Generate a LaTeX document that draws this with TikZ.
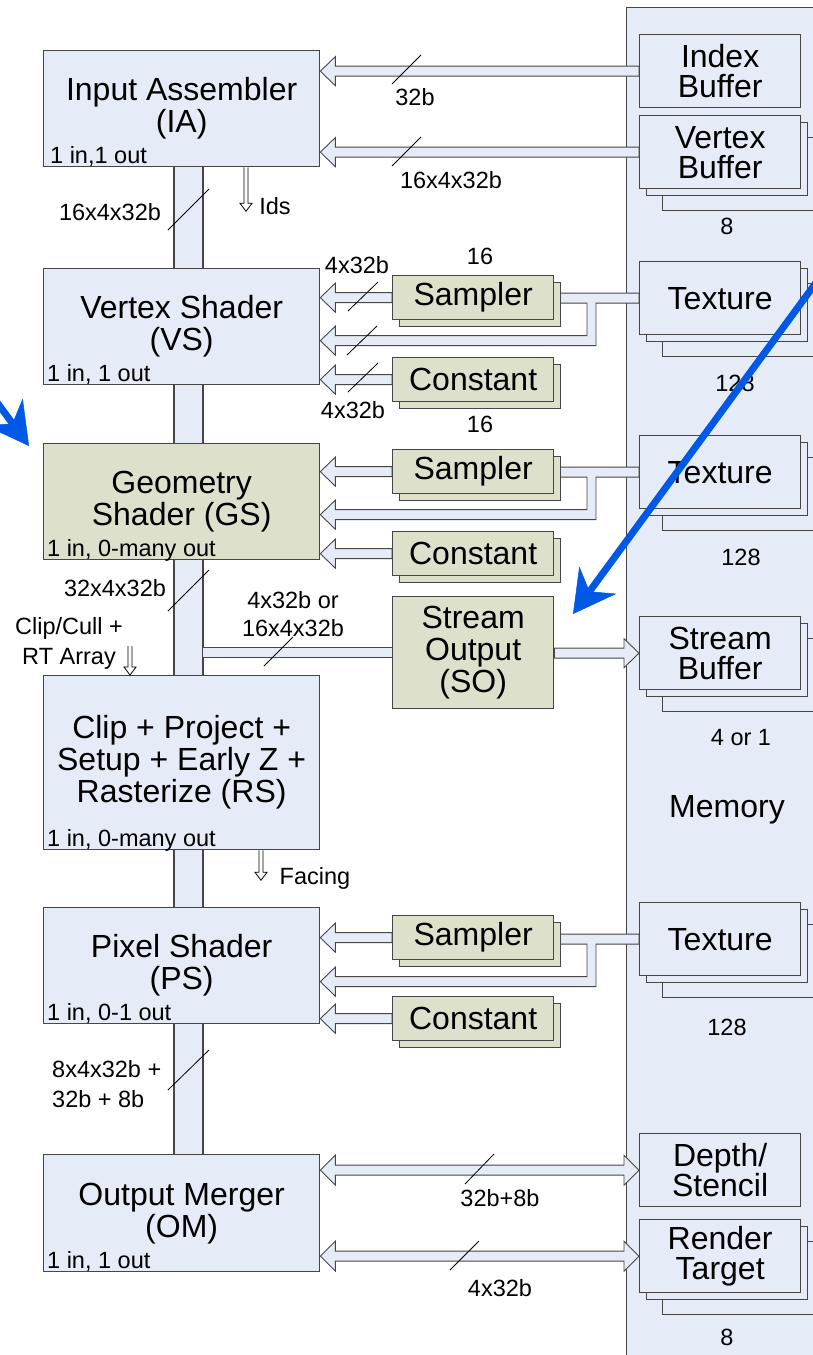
\documentclass[tikz,border=0pt]{standalone}
\usepackage{fontspec}
\setmainfont{Liberation Sans}
\usetikzlibrary{arrows.meta,calc,backgrounds}
\definecolor{boxblue}{RGB}{229,236,247}
\definecolor{olivebox}{RGB}{221,224,203}
\definecolor{edgegray}{RGB}{70,70,70}
\definecolor{bluearr}{RGB}{0,88,230}
\newcommand\bigfont{\fontsize{32}{32}\selectfont}
\newcommand\memfont{\fontsize{32}{30}\selectfont}
\newcommand\smallfont{\fontsize{23.5}{30}\selectfont}
% left-pointing hollow band arrow: tip, tail
\newcommand\LArrow[2]{%
  \filldraw[band] let \p1=#1, \p2=#2 in
   (\x1,\y1) -- (\x1+15pt,\y1+14.5pt) -- (\x1+15pt,\y1+5pt) -- (\x2,\y1+5pt)
   -- (\x2,\y1-5pt) -- (\x1+15pt,\y1-5pt) -- (\x1+15pt,\y1-14.5pt) -- cycle;}
% right-pointing hollow band arrow: tip, tail
\newcommand\RArrow[2]{%
  \filldraw[band] let \p1=#1, \p2=#2 in
   (\x1,\y1) -- (\x1-15pt,\y1+14.5pt) -- (\x1-15pt,\y1+5pt) -- (\x2,\y1+5pt)
   -- (\x2,\y1-5pt) -- (\x1-15pt,\y1-5pt) -- (\x1-15pt,\y1-14.5pt) -- cycle;}
% double-headed band: left tip, right tip
\newcommand\DArrow[2]{%
  \filldraw[band] let \p1=#1, \p2=#2 in
   (\x1,\y1) -- (\x1+15pt,\y1+15pt) -- (\x1+15pt,\y1+5pt) -- (\x2-15pt,\y1+5pt)
   -- (\x2-15pt,\y1+15pt) -- (\x2,\y1) -- (\x2-15pt,\y1-15pt) -- (\x2-15pt,\y1-5pt)
   -- (\x1+15pt,\y1-5pt) -- (\x1+15pt,\y1-15pt) -- cycle;}
% branch band from texture to shader: tip, texture west, sampler east
\newcommand\BArrow[3]{%
  \filldraw[band] let \p1=#1, \p2=#2, \p3=#3 in
   (\x2,\y2+5pt) -- (\x3,\y2+5pt) -- (\x3,\y2-5pt) -- (\x2-52pt,\y2-5pt)
   -- (\x2-52pt,\y1+5pt) -- (\x1+15pt,\y1+5pt) -- (\x1+15pt,\y1+14.5pt) -- (\x1,\y1)
   -- (\x1+15pt,\y1-14.5pt) -- (\x1+15pt,\y1-5pt) -- (\x2-43pt,\y1-5pt)
   -- (\x2-43pt,\y2-5pt) -- (\x2,\y2-5pt) -- cycle;}
% small hollow down arrow: top point, length
\newcommand\VArrow[2]{%
  \filldraw[thinarr] let \p1=#1 in
   (\x1-2pt,\y1) -- (\x1-2pt,\y1-#2pt+8pt) -- (\x1-6pt,\y1-#2pt+8pt) -- (\x1,\y1-#2pt)
   -- (\x1+6pt,\y1-#2pt+8pt) -- (\x1+2pt,\y1-#2pt+8pt) -- (\x1+2pt,\y1);}
\newcommand\memstack[4]{%
  \node[membox, minimum width=175] (#1c) at ({#2+23},{#3+22}) {};
  \node[membox] (#1b) at ({#2+7},{#3+7}) {};
  \node[membox] (#1) at (#2,#3) {#4};}
\newcommand\olstack[3]{%
  \node[obox] (#1b) at (399,{#2+7}) {};
  \node[obox] (#1) at (392,#2) {#3};}
\begin{document}
\begin{tikzpicture}[x=1pt,y=-1pt,
  mainbox/.style={draw=edgegray, fill=boxblue, line width=1.3pt, inner sep=0pt,
    anchor=north west, align=center, font=\bigfont, minimum width=276, minimum height=116},
  obox/.style={draw=edgegray, fill=olivebox, line width=1.3pt, inner sep=0pt,
    anchor=north west, align=center, font=\bigfont, minimum width=161, minimum height=44},
  membox/.style={draw=edgegray, fill=boxblue, line width=1.3pt, inner sep=0pt,
    anchor=north west, align=center, font=\memfont, minimum width=161, minimum height=73},
  panelbox/.style={draw=edgegray, fill=boxblue, line width=1.3pt, inner sep=0pt,
    anchor=north west, minimum width=230, minimum height=1400},
  lbl/.style={font=\smallfont, inner sep=0pt, align=center},
  iolabel/.style={font=\smallfont, inner sep=0pt, anchor=base west},
  band/.style={fill=boxblue, draw=edgegray, line width=0.9pt},
  slashline/.style={draw=black, line width=0.8pt},
  thinarr/.style={fill=white, draw=black, line width=0.8pt},
  bluearrow/.style={draw=bluearr, line width=7pt,
    -{Stealth[length=42pt,width=46pt,inset=14pt,line width=0.5pt]}}
]
\useasboundingbox (0,0) rectangle (813,1355);
\clip (0,0) rectangle (813,1355);

% ---- pipeline blocks ----
\node[mainbox] (ia) at (43,50) {Input Assembler\\(IA)};
\node[mainbox] (vs) at (43,268) {Vertex Shader\\(VS)};
\node[mainbox, fill=olivebox] (gs) at (43,443) {Geometry\\Shader (GS)};
\node[mainbox, minimum height=174] (rs) at (43,675) {Clip + Project +\\Setup + Early Z +\\Rasterize (RS)};
\node[mainbox] (ps) at (43,907) {Pixel Shader\\(PS)};
\node[mainbox, minimum height=117] (om) at (43,1154) {Output Merger\\(OM)};

\node[iolabel] (iaio) at ($(ia.south west)+(7,-3.5)$) {1 in,1 out};
\node[iolabel] (vsio) at ($(vs.south west)+(4,-3.5)$) {1 in, 1 out};
\node[iolabel] (gsio) at ($(gs.south west)+(4,-3.5)$) {1 in, 0-many out};
\node[iolabel] (rsio) at ($(rs.south west)+(4,-3.5)$) {1 in, 0-many out};
\node[iolabel] (psio) at ($(ps.south west)+(4,-3.5)$) {1 in, 0-1 out};
\node[iolabel] (omio) at ($(om.south west)+(4,-3.5)$) {1 in, 1 out};

% ---- memory resources ----
\node[membox] (ib) at (639,34) {Index\\Buffer};
\memstack{vb}{639}{115}{Vertex\\Buffer}
\memstack{txa}{639}{261}{Texture}
\memstack{txb}{639}{435}{Texture}
\memstack{sbuf}{639}{616}{Stream\\Buffer}
\memstack{txc}{639}{902}{Texture}
\node[membox] (ds) at (639,1133) {Depth/\\Stencil};
\memstack{rt}{639}{1219}{Render\\Target}
\node[lbl, font=\bigfont] (memlbl) at (727,810) {Memory};

% ---- samplers / constants / stream output ----
\olstack{smpA}{275}{Sampler}
\olstack{cstA}{357}{Constant}
\olstack{smpB}{449}{Sampler}
\olstack{cstB}{531}{Constant}
\olstack{smpC}{915}{Sampler}
\olstack{cstC}{996}{Constant}
\node[obox, minimum height=112] (so) at (392,596) {Stream\\Output\\(SO)};

% ---- background: memory panel, bus, bands ----
\begin{scope}[on background layer]
  \node[panelbox] (mem) at (626,7) {};
  \fill[boxblue] ($(ia.south west)+(131,0)$) rectangle ($(om.north west)+(160,0)$);
  \draw[edgegray, line width=1.3pt] ($(ia.south west)+(131,0)$) -- ($(om.north west)+(131,0)$);
  \draw[edgegray, line width=1.3pt] ($(ia.south west)+(160,0)$) -- ($(om.north west)+(160,0)$);
  \LArrow{(ia.east |- ib.west)}{(ib.west)}
  \LArrow{(ia.east |- vb.west)}{(vb.west)}
  \LArrow{(vs.east |- smpA.west)}{(smpA.west)}
  \BArrow{($(vs.east |- smpA.west)+(0,43)$)}{(txa.west)}{(smpA.east)}
  \LArrow{(vs.east |- cstA.west)}{(cstA.west)}
  \LArrow{(gs.east |- smpB.west)}{(smpB.west)}
  \BArrow{($(gs.east |- smpB.west)+(0,43)$)}{(txb.west)}{(smpB.east)}
  \LArrow{(gs.east |- cstB.west)}{(cstB.west)}
  \LArrow{(ps.east |- smpC.west)}{(smpC.west)}
  \BArrow{($(ps.east |- smpC.west)+(0,44)$)}{(txc.west)}{(smpC.east)}
  \LArrow{(ps.east |- cstC.west)}{(cstC.west)}
  \fill[boxblue] let \p1=(so.west), \p2=($(ia.south west)+(160,0)$) in
    (\x2,\y1-5pt) rectangle (\x1,\y1+5pt);
  \draw[band] let \p1=(so.west), \p2=($(ia.south west)+(160,0)$) in
    (\x2,\y1-5pt) -- (\x1,\y1-5pt) (\x2,\y1+5pt) -- (\x1,\y1+5pt);
  \RArrow{(sbuf.west)}{(so.east)}
  \DArrow{(om.east |- ds.west)}{(ds.west)}
  \DArrow{(om.east |- rt.west)}{(rt.west)}
\end{scope}

% ---- width slashes ----
\draw[slashline] (392,84) -- (421,55);
\draw[slashline] (392,166) -- (421,137);
\draw[slashline] (168,230) -- (209,189);
\draw[slashline] (348,311) -- (378,282);
\draw[slashline] (347,355) -- (377,326);
\draw[slashline] (348,392) -- (378,363);
\draw[slashline] (168,611) -- (209,570);
\draw[slashline] (264,666) -- (293,637);
\draw[slashline] (168,1090) -- (209,1050);
\draw[slashline] (465,1184) -- (494,1154);
\draw[slashline] (450,1270) -- (479,1241);

% ---- small side arrows ----
\VArrow{($(ia.south west)+(203,0)$)}{44}
\coordinate (clipTop) at (130,646);
\VArrow{(clipTop)}{29}
\VArrow{($(rs.south west)+(218,0)$)}{30}

% ---- labels ----
\node[lbl] (l32b) at (415,97) {32b};
\node[lbl] (l16a) at (451,180) {16x4x32b};
\node[lbl] (lbusA) at (110,212) {16x4x32b};
\node[lbl] (lids) at (275,206) {Ids};
\node[lbl] (lva1) at (357,265) {4x32b};
\node[lbl] (l16b) at (480,256) {16};
\node[lbl] (lva2) at (353,410) {4x32b};
\node[lbl] (l16c) at (480,424) {16};
\node[lbl] (l8a) at (727,226) {8};
\node[lbl] (l128a) at (735,383) {128};
\node[lbl] (l128b) at (741,557) {128};
\node[lbl] (lbusB) at (115,588) {32x4x32b};
\node[lbl] (lclip) at (69,643) {Clip/Cull +\\RT Array};
\node[lbl, font=\fontsize{23.5}{28}\selectfont] (lso) at (293,614) {4x32b or\\16x4x32b};
\node[lbl] (l4or1) at (741,738) {4 or 1};
\node[lbl] (lface) at (315,878) {Facing};
\node[lbl] (l128c) at (727,1027) {128};
\node[lbl, align=left, anchor=west] (lbusC) at (52,1084) {8x4x32b +\\32b + 8b};
\node[lbl] (lds) at (500,1198) {32b+8b};
\node[lbl] (lrt) at (500,1288) {4x32b};
\node[lbl] (l8b) at (727,1337) {8};

% ---- blue pointer arrows ----
\coordinate (blueA) at (840,250);
\coordinate (blueAtip) at (573,614);
\draw[bluearrow] (blueA) -- (blueAtip);
\coordinate (blueB) at (-238,82);
\coordinate (blueBtip) at (29,446);
\draw[bluearrow] (blueB) -- (blueBtip);
\end{tikzpicture}
\end{document}
